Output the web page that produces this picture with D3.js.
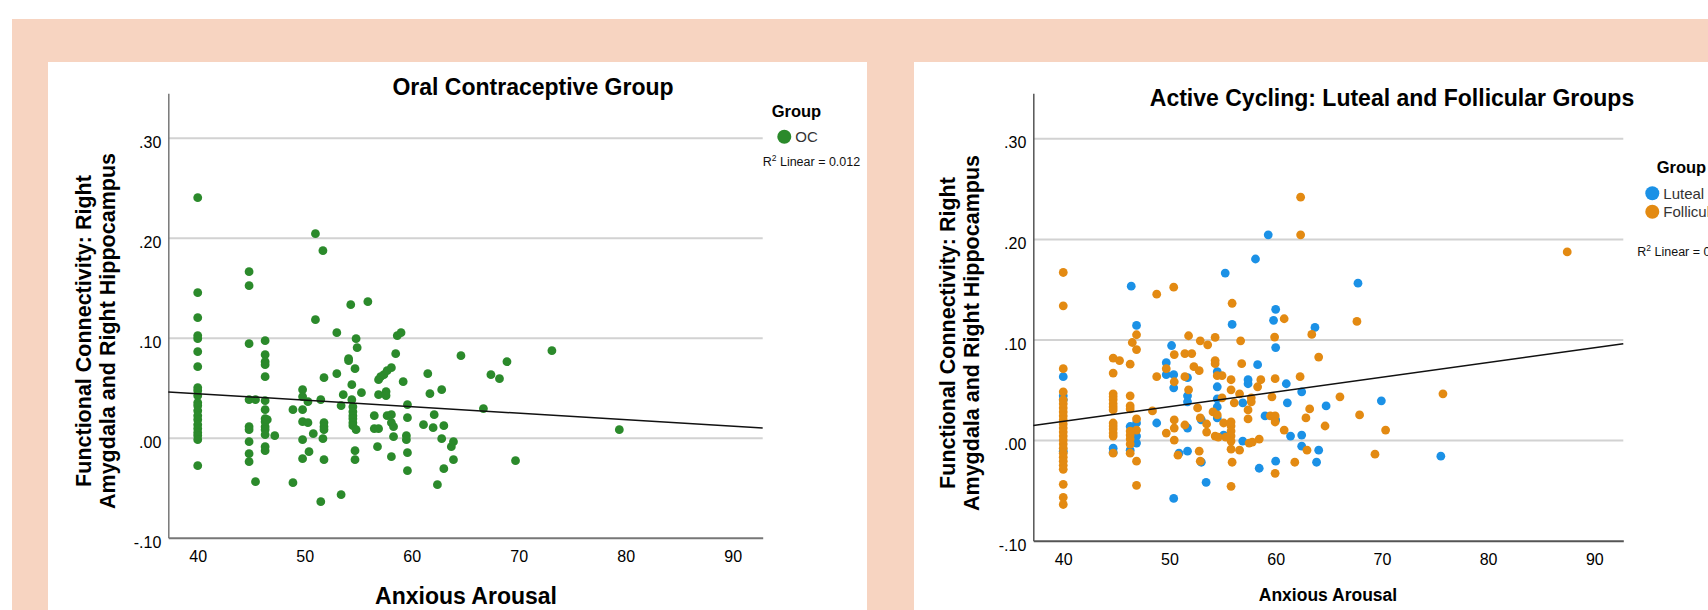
<!DOCTYPE html>
<html>
<head>
<meta charset="utf-8">
<script src="https://cdn.jsdelivr.net/npm/d3@7"></script>
<style>
  body { margin: 0; background: #fff; }
  text { font-family: "Liberation Sans", Arial, sans-serif; }
</style>
</head>
<body>
<script>
// ---- data ----
const xTicks = [40, 50, 60, 70, 80, 90];
const yTicks = [-0.1, 0, 0.1, 0.2, 0.3];
const gridTicks = [0, 0.1, 0.2, 0.3];

// Oral contraceptive group: [anxious arousal, connectivity]
const ocPoints = [
  [40, 0.240], [40, 0.145], [40, 0.120], [40, 0.102], [40, 0.099], [40, 0.086], [40, 0.071],
  [40, 0.050], [40, 0.047], [40, 0.042], [40, 0.035], [40, 0.032], [40, 0.027], [40, 0.022],
  [40, 0.018], [40, 0.013], [40, 0.009], [40, 0.005], [40, 0.002], [40, -0.002], [40, -0.028],
  [44.8, 0.166], [44.8, 0.152], [44.8, 0.094], [44.8, 0.038], [44.8, 0.011], [44.8, 0.008],
  [44.8, -0.004], [44.8, -0.016], [44.8, -0.024], [45.4, 0.038], [45.4, -0.044],
  [46.3, 0.097], [46.3, 0.083], [46.3, 0.076], [46.3, 0.073], [46.3, 0.061], [46.3, 0.037],
  [46.3, 0.028], [46.3, 0.019], [46.3, 0.016], [46.3, 0.011], [46.3, 0.008], [46.3, 0.003],
  [46.3, -0.009], [46.3, -0.013], [46.5, 0.018], [47.2, 0.002],
  [48.9, 0.028], [48.9, -0.045],
  [49.8, 0.048], [49.8, 0.041], [49.8, 0.028], [49.8, 0.016], [49.8, -0.002], [49.8, -0.021],
  [50.3, 0.036], [50.3, 0.015], [50.4, -0.014], [50.8, 0.004],
  [51.0, 0.204], [51.0, 0.118], [51.5, 0.038], [51.5, -0.064], [51.7, 0.187], [51.7, -0.001],
  [51.8, 0.060], [51.8, 0.015], [51.8, 0.011], [51.8, 0.008], [51.8, -0.022],
  [53.0, 0.105], [53.0, 0.064], [53.4, 0.032], [53.4, -0.057], [53.6, 0.043],
  [54.1, 0.079], [54.1, 0.077], [54.3, 0.133], [54.4, 0.053], [54.4, 0.038],
  [54.5, 0.031], [54.5, 0.026], [54.5, 0.022], [54.5, 0.019], [54.5, 0.015], [54.5, 0.012],
  [54.7, 0.069], [54.7, -0.013], [54.7, -0.022], [54.8, 0.099], [54.8, 0.008], [54.9, 0.090],
  [55.3, 0.045], [55.9, 0.136], [56.5, 0.009], [56.5, 0.022], [56.8, -0.009],
  [56.9, 0.009], [56.9, 0.043], [56.9, 0.058], [57.1, 0.061], [57.4, 0.063],
  [57.6, 0.046], [57.6, 0.042], [57.7, 0.067], [57.7, 0.022],
  [58.1, 0.070], [58.1, 0.015], [58.1, 0.023], [58.1, -0.019], [58.3, 0.011], [58.3, 0.001],
  [58.5, 0.084], [58.65, 0.102], [59.0, 0.105], [59.2, 0.056],
  [59.6, 0.033], [59.6, 0.020], [59.6, -0.015], [59.6, -0.033], [59.5, 0.002], [59.5, -0.002],
  [61.1, 0.013], [61.5, 0.064], [61.7, 0.044], [62.0, 0.010], [62.1, 0.023], [62.4, -0.047],
  [62.8, 0.048], [62.8, -0.001], [63.0, 0.012], [63.0, -0.031], [63.7, -0.009],
  [63.9, -0.004], [63.9, -0.022], [64.6, 0.082], [66.7, 0.029], [67.4, 0.063], [68.2, 0.059],
  [68.9, 0.076], [69.7, -0.023], [73.1, 0.087], [79.4, 0.008]
];

const lutealPoints = [
  [46.4, 0.153], [46.9, 0.114], [55.25, 0.166], [58.1, 0.180], [59.3, 0.204], [60.0, 0.130],
  [59.8, 0.119], [55.9, 0.115], [50.2, 0.094], [63.7, 0.112], [60.0, 0.092], [67.75, 0.156],
  [62.45, 0.048], [64.75, 0.034], [69.95, 0.039], [62.45, 0.005], [62.45, -0.006],
  [64.05, -0.010], [63.85, -0.022], [75.55, -0.016],
  [40, 0.063], [40, 0.044], [40, 0.040], [40, -0.011], [44.7, -0.008], [44.7, -0.012],
  [46.3, 0.0135], [46.3, -0.010], [46.9, 0.017], [46.9, 0.004], [46.9, -0.003], [48.8, 0.017],
  [49.7, 0.077], [49.7, 0.065], [50.4, 0.065], [50.4, 0.052], [50.4, -0.058], [50.9, -0.013],
  [51.7, 0.062], [51.7, 0.044], [51.7, 0.038], [51.7, 0.012], [51.7, -0.011],
  [53.0, 0.020], [53.0, -0.022], [53.45, -0.042],
  [54.5, 0.068], [54.5, 0.053], [54.5, 0.041], [54.5, 0.033], [54.5, 0.022], [55.1, 0.005],
  [56.9, 0.037], [56.9, -0.001], [57.4, 0.056], [57.4, 0.060], [58.3, 0.075], [58.45, -0.028],
  [59.0, 0.024], [60.0, 0.020], [60.0, -0.021], [61.0, 0.056], [61.1, 0.037], [61.4, 0.004]
];

const follicularPoints = [
  [40, 0.1666], [40, 0.1335], [40, 0.071], [40, 0.048], [40, 0.040], [40, 0.036], [40, 0.032],
  [40, 0.028], [40, 0.024], [40, 0.020], [40, 0.016], [40, 0.012], [40, 0.008], [40, 0.004],
  [40, 0.000], [40, -0.004], [40, -0.008], [40, -0.013], [40, -0.017], [40, -0.021],
  [40, -0.025], [40, -0.029], [40, -0.044], [40, -0.057], [40, -0.064],
  [62.35, 0.2415], [62.35, 0.204], [48.8, 0.145], [50.4, 0.152], [55.9, 0.136], [60.8, 0.1206],
  [46.5, 0.097], [46.9, 0.1047], [46.9, 0.090], [46.9, 0.021], [46.9, 0.010], [46.9, -0.021],
  [46.9, -0.045], [51.8, 0.1037], [52.9, 0.0987], [53.6, 0.0947],
  [54.3, 0.102], [54.3, 0.079], [54.3, 0.076], [54.3, 0.004], [56.7, 0.0987], [59.9, 0.1024],
  [63.4, 0.105], [87.45, 0.187], [67.65, 0.118], [64.05, 0.0825], [62.3, 0.063], [66.05, 0.043],
  [75.75, 0.046], [63.2, 0.031], [62.85, 0.022], [67.9, 0.025], [64.65, 0.014], [70.35, 0.010],
  [62.95, -0.010], [69.35, -0.014],
  [44.7, 0.0815], [44.7, 0.0666], [44.7, 0.046], [44.7, 0.043], [44.7, 0.040], [44.7, 0.036],
  [44.7, 0.033], [44.7, 0.030], [44.7, 0.017], [44.7, 0.014], [44.7, 0.011], [44.7, 0.007],
  [44.7, 0.004], [44.7, -0.013], [45.3, 0.079],
  [46.3, 0.0755], [46.3, 0.044], [46.3, 0.034], [46.3, 0.031], [46.3, 0.009], [46.3, 0.005],
  [46.3, 0.001], [46.3, -0.004], [46.3, -0.013],
  [48.4, 0.029], [48.8, 0.063], [49.7, 0.071], [49.7, 0.007],
  [50.45, 0.085], [50.45, 0.058], [50.45, 0.020], [50.45, 0.012], [50.45, 0.000], [50.8, -0.015],
  [51.45, 0.086], [51.45, 0.063], [51.45, 0.015], [52.1, 0.086], [51.8, 0.050], [52.65, 0.032],
  [52.3, 0.073], [52.8, 0.069], [52.8, -0.011], [52.9, 0.022], [52.9, -0.021],
  [53.5, 0.016], [53.5, 0.008], [54.1, 0.028], [54.5, 0.064], [54.5, 0.025],
  [54.95, 0.064], [54.95, 0.042], [55.1, 0.017], [54.6, 0.003],
  [55.8, 0.060], [55.8, 0.050], [55.8, 0.018], [55.8, 0.014], [55.8, 0.009], [55.8, 0.004],
  [55.8, -0.001], [55.8, -0.009], [55.8, -0.046], [55.3, 0.003], [55.9, -0.022], [56.1, 0.037],
  [56.6, -0.010], [56.6, 0.046], [56.8, 0.076], [57.7, 0.042], [57.7, 0.038],
  [57.4, 0.030], [57.4, 0.021], [57.5, -0.003], [57.8, -0.002], [58.3, 0.053], [58.6, 0.060],
  [58.45, 0.001], [59.5, 0.024], [59.65, 0.043], [59.95, 0.061], [59.95, 0.024],
  [59.95, 0.018], [59.95, -0.033], [60.8, 0.010], [61.8, -0.022]
];

// fit lines as [intercept, slope]
const ocFit = [0.0700, -0.00065];
const cyclingFit = [-0.0399, 0.001462];

const colors = { oc: "#2b8a2b", luteal: "#1b91e6", follicular: "#e38a12" };

// ---- page ----
const W = 1708, H = 610;
const svg = d3.select("body").append("svg").attr("width", W).attr("height", H);

svg.append("rect").attr("x", 12).attr("y", 19).attr("width", W - 12).attr("height", H - 19)
  .attr("fill", "#f7d4c1");
svg.append("rect").attr("x", 48).attr("y", 62).attr("width", 819).attr("height", H - 62)
  .attr("fill", "#fff");
svg.append("rect").attr("x", 914).attr("y", 62).attr("width", W - 914).attr("height", H - 62)
  .attr("fill", "#fff");

const fmtY = (d) => (d < 0 ? "-" : "") + Math.abs(d).toFixed(2).slice(1);

function r2(points) {
  const xs = points.map((p) => p[0]), ys = points.map((p) => p[1]);
  const mx = d3.mean(xs), my = d3.mean(ys);
  let sxy = 0, sxx = 0, syy = 0;
  points.forEach(([a, b]) => {
    sxy += (a - mx) * (b - my);
    sxx += (a - mx) ** 2;
    syy += (b - my) ** 2;
  });
  return (sxy * sxy) / (sxx * syy);
}

function drawPanel(p) {
  const x = d3.scaleLinear().domain(p.xDomain).range(p.xRange);
  const y = d3.scaleLinear().domain(p.yDomain).range(p.yRange);
  const g = svg.append("g");
  const plotW = p.xRange[1] - p.xRange[0];

  // gridlines
  g.append("g")
    .attr("transform", `translate(${p.xRange[0]},0)`)
    .call(d3.axisLeft(y).tickValues(gridTicks).tickSize(-plotW).tickFormat(""))
    .call((s) => s.select(".domain").remove())
    .selectAll("line")
    .attr("stroke", "#d2d2d2")
    .attr("stroke-width", 2);

  // y axis
  const ya = g.append("g")
    .attr("transform", `translate(${p.xRange[0]},0)`)
    .call(d3.axisLeft(y).tickValues(yTicks).tickSize(0).tickPadding(7).tickFormat(fmtY));
  ya.select(".domain").attr("stroke", p.axisColor).attr("stroke-width", 1.5);
  ya.selectAll("text")
    .attr("dy", "0.6em")
    .style("font-size", "16px")
    .style("font-family", '"Liberation Sans", Arial, sans-serif')
    .attr("fill", "#000");

  // x axis
  const xa = g.append("g")
    .attr("transform", `translate(0,${p.yRange[0]})`)
    .call(d3.axisBottom(x).tickValues(xTicks).tickSize(0).tickPadding(13).tickFormat(d3.format("d")));
  xa.select(".domain").attr("stroke", p.axisColor).attr("stroke-width", 2);
  xa.selectAll("text")
    .style("font-size", "16px")
    .style("font-family", '"Liberation Sans", Arial, sans-serif')
    .attr("fill", "#000");

  // points
  p.series.forEach((s) => {
    g.append("g")
      .selectAll("circle")
      .data(s.points)
      .join("circle")
      .attr("cx", (d) => x(d[0]))
      .attr("cy", (d) => y(d[1]))
      .attr("r", 4.4)
      .attr("fill", s.color);
  });

  // fit line
  const fitLine = x.domain().map((v) => [v, p.fit[0] + p.fit[1] * v]);
  g.append("path")
    .datum(fitLine)
    .attr("fill", "none")
    .attr("stroke", "#111")
    .attr("stroke-width", 1.5)
    .attr("d", d3.line().x((d) => x(d[0])).y((d) => y(d[1])));

  // title
  g.append("text")
    .attr("x", p.title.x).attr("y", p.title.y).attr("dy", "0.35em")
    .attr("text-anchor", "middle")
    .style("font-size", "23px").style("font-weight", "bold")
    .text(p.title.text);

  // y axis title (two lines)
  const yt = g.append("text")
    .attr("transform", `translate(${p.yTitle.x},${p.yTitle.y}) rotate(-90)`)
    .attr("text-anchor", "middle")
    .style("font-size", "21.5px").style("font-weight", "bold");
  yt.append("tspan").attr("x", 0).attr("y", 0).attr("dy", "0.35em")
    .text("Functional Connectivity: Right");
  yt.append("tspan").attr("x", 0).attr("y", 24).attr("dy", "0.35em")
    .text("Amygdala and Right Hippocampus");

  // x axis title
  g.append("text")
    .attr("x", p.xTitle.x).attr("y", p.xTitle.y).attr("dy", "0.35em")
    .attr("text-anchor", "middle")
    .style("font-size", p.xTitle.size).style("font-weight", "bold")
    .text("Anxious Arousal");

  // legend
  g.append("text")
    .attr("x", p.legend.titleX).attr("y", p.legend.titleY).attr("dy", "0.35em")
    .style("font-size", "16.5px").style("font-weight", "bold")
    .text("Group");
  p.series.forEach((s, i) => {
    const row = g.append("g")
      .attr("transform", `translate(${p.legend.x},${p.legend.y + i * 18.4})`);
    row.append("circle").attr("cx", 0).attr("cy", 0).attr("r", 7).attr("fill", s.color);
    row.append("text").attr("x", 11).attr("y", 0).attr("dy", "0.35em")
      .style("font-size", "15px").attr("fill", "#333").text(s.name);
  });
  const rt = g.append("text")
    .attr("x", p.r2.x).attr("y", p.r2.y).attr("dy", "0.35em")
    .style("font-size", "12.5px").attr("fill", "#111");
  rt.append("tspan").text("R");
  rt.append("tspan").attr("baseline-shift", "super").style("font-size", "8.5px").text("2");
  rt.append("tspan").text(" Linear = " + p.r2.value);
}

drawPanel({
  xDomain: [37.25, 92.8], xRange: [168.3, 762.7],
  yDomain: [-0.1, 0.3444], yRange: [537.7, 93.3],
  axisColor: "#777",
  series: [{ name: "OC", points: ocPoints, color: colors.oc }],
  fit: ocFit,
  title: { text: "Oral Contraceptive Group", x: 533, y: 87 },
  yTitle: { x: 83, y: 331 },
  xTitle: { x: 466, y: 596, size: "23px" },
  legend: { titleX: 771.7, titleY: 111, x: 784.3, y: 136.7 },
  r2: { x: 762.7, y: 162, value: "0.012" }
});

drawPanel({
  xDomain: [37.18, 92.73], xRange: [1033.3, 1623.3],
  yDomain: [-0.1, 0.3447], yRange: [540.7, 93.3],
  axisColor: "#555",
  series: [
    { name: "Luteal", points: lutealPoints, color: colors.luteal },
    { name: "Follicular", points: follicularPoints, color: colors.follicular }
  ],
  fit: cyclingFit,
  title: { text: "Active Cycling: Luteal and Follicular Groups", x: 1392, y: 98 },
  yTitle: { x: 947.5, y: 333 },
  xTitle: { x: 1328, y: 595, size: "17.5px" },
  legend: { titleX: 1656.7, titleY: 167.3, x: 1652.3, y: 193.3 },
  r2: { x: 1637.3, y: 252, value: r2(lutealPoints.concat(follicularPoints)).toFixed(3) }
});
</script>
</body>
</html>
